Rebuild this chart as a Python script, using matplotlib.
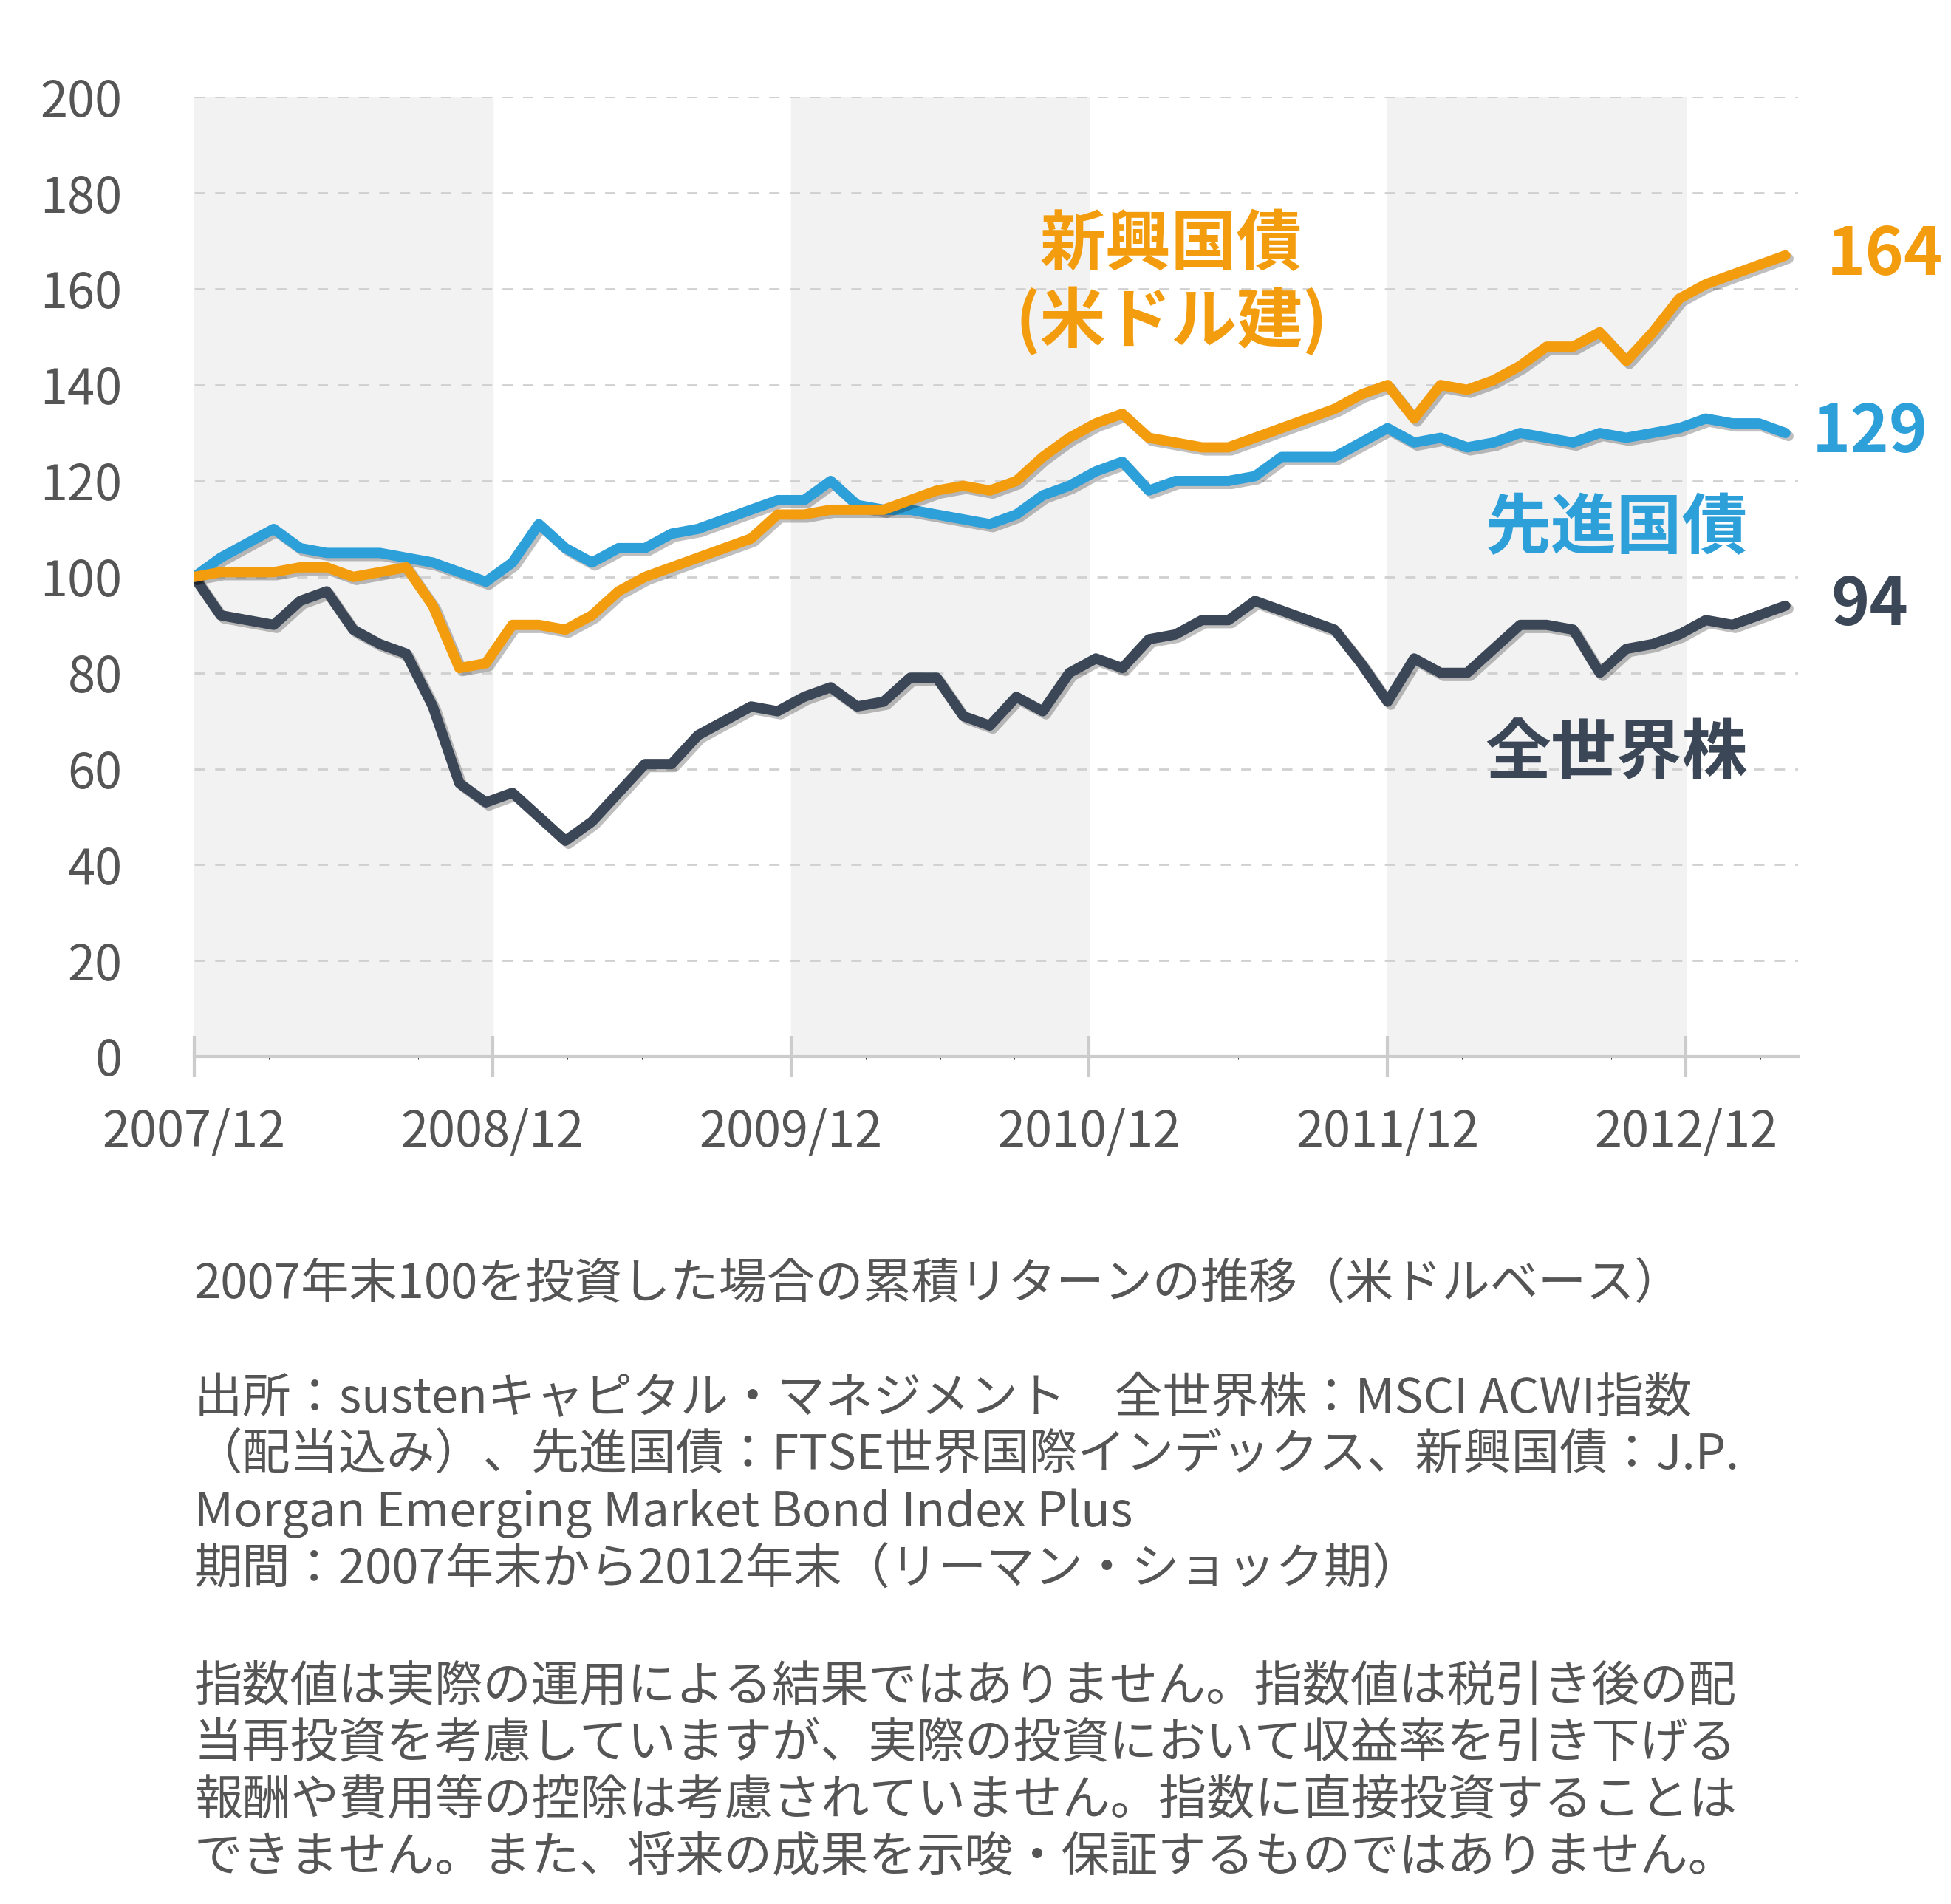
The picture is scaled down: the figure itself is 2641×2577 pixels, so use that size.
import matplotlib
matplotlib.use("Agg")
import matplotlib.pyplot as plt
import matplotlib.patheffects as pe
import numpy as np

plt.rcParams["font.family"] = "Noto Sans CJK JP"

world = [100,92,91,90,95,97,89,86,84,73,57,53,55,50,45,49,55,61,61,67,70,73,72,75,77,73,74,79,79,71,69,75,72,80,83,81,87,88,91,91,95,93,91,89,82,74,83,80,80,85,90,90,89,80,85,86,88,91,90,92,94]
dev = [100,104,107,110,106,105,105,105,104,103,101,99,103,111,106,103,106,106,109,110,112,114,116,116,120,115,114,114,113,112,111,113,117,119,122,124,118,120,120,120,121,125,125,125,128,131,128,129,127,128,130,129,128,130,129,130,131,133,132,132,130]
em = [100,101,101,101,102,102,100,101,102,94,81,82,90,90,89,92,97,100,102,104,106,108,113,113,114,114,114,116,118,119,118,120,125,129,132,134,129,128,127,127,129,131,133,135,138,140,133,140,139,141,144,148,148,151,145,151,158,161,163,165,167]
year_labels = ["2007/12","2008/12","2009/12","2010/12","2011/12","2012/12"]
y_ticks = [0,20,40,60,80,100,120,140,160,180,200]

fig = plt.figure(figsize=(26.41,25.77), dpi=100)
ax = fig.add_axes([0.0995,0.445,0.822,0.504])
x = np.linspace(0, 64, len(world))
for s in range(0,60,24):
    ax.axvspan(s, s+12, color="#f2f2f2", zorder=0)
for v in y_ticks[1:]:
    ax.axhline(v, color="#d0d0d0", lw=2, ls=(0,(5,5)), zorder=1)
shadow = [pe.SimpleLineShadow(offset=(3,-3), alpha=0.25, shadow_color="black"), pe.Normal()]
for data, c in [(world,"#3b4656"),(dev,"#2d9fd9"),(em,"#f39c0e")]:
    ax.plot(x, data, color=c, lw=10, solid_capstyle="round", solid_joinstyle="round", zorder=3, path_effects=shadow)
ax.set_xlim(0,64.5); ax.set_ylim(0,200)
for sp in ["top","right","left"]:
    ax.spines[sp].set_visible(False)
ax.spines["bottom"].set_color("#cccccc"); ax.spines["bottom"].set_linewidth(3)
ax.set_yticks(y_ticks)
ax.tick_params(axis="y", length=0, labelsize=48, labelcolor="#555555", pad=70)
ax.set_xticks(range(0,64,12))
ax.set_xticklabels(year_labels)
ax.set_xticks(range(0,64,3), minor=True)
ax.tick_params(axis="x", which="major", length=40, width=3, color="#cccccc", direction="inout", labelsize=48, labelcolor="#555555", pad=30)
for t in ax.get_xticklabels():
    t.set_x(0)
ax.text(68.0,167,"164", color="#f39c0e", fontsize=64, fontweight="bold", ha="center", va="center", clip_on=False)
ax.text(67.4,130,"129", color="#2d9fd9", fontsize=64, fontweight="bold", ha="center", va="center", clip_on=False)
ax.text(67.4,94,"94", color="#3b4656", fontsize=64, fontweight="bold", ha="center", va="center", clip_on=False)
ax.text(39.3,161,"新興国債\n(米ドル建)", color="#f39c0e", fontsize=64, fontweight="bold", ha="center", va="center", linespacing=1.15)
ax.text(57.2,110,"先進国債", color="#2d9fd9", fontsize=64, fontweight="bold", ha="center", va="center")
ax.text(57.2,63,"全世界株", color="#3b4656", fontsize=64, fontweight="bold", ha="center", va="center")

kw = dict(fontsize=47, color="#555555", ha="left", va="top")
fig.text(0.0995,0.338,"2007年末100を投資した場合の累積リターンの推移（米ドルベース）", **kw)
fig.text(0.0995,0.278,"出所：sustenキャピタル・マネジメント　全世界株：MSCI ACWI指数\n（配当込み）、先進国債：FTSE世界国際インデックス、新興国債：J.P.\nMorgan Emerging Market Bond Index Plus\n期間：2007年末から2012年末（リーマン・ショック期）", linespacing=1.2, **kw)
fig.text(0.0995,0.127,"指数値は実際の運用による結果ではありません。指数値は税引き後の配\n当再投資を考慮していますが、実際の投資において収益率を引き下げる\n報酬や費用等の控除は考慮されていません。指数に直接投資することは\nできません。また、将来の成果を示唆・保証するものではありません。", linespacing=1.2, **kw)
fig.savefig("out.png", dpi=100, facecolor="white")
